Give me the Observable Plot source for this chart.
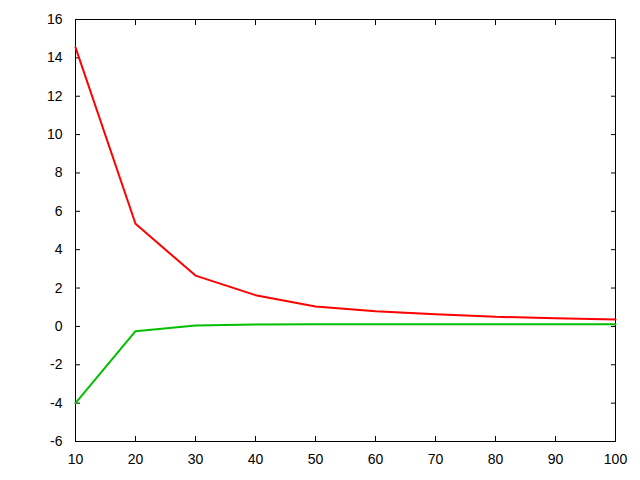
<!DOCTYPE html>
<html>
<head>
<meta charset="utf-8">
<script src="https://cdn.jsdelivr.net/npm/d3@7"></script>
<script src="https://cdn.jsdelivr.net/npm/@observablehq/plot@0.6"></script>
<style>
  html, body { margin: 0; padding: 0; background: #fff; }
  svg { display: block; }
</style>
</head>
<body>
<div id="chart"></div>
<script>
const xs = [10, 20, 30, 40, 50, 60, 70, 80, 90, 100];
const redValues = [14.55, 5.35, 2.65, 1.63, 1.04, 0.79, 0.64, 0.5, 0.43, 0.36];
const greenValues = [-4.0, -0.25, 0.05, 0.1, 0.11, 0.11, 0.11, 0.11, 0.11, 0.11];
const xTicks = [10, 20, 30, 40, 50, 60, 70, 80, 90, 100];
const yTicks = [-6, -4, -2, 0, 2, 4, 6, 8, 10, 12, 14, 16];

const red = xs.map((x, i) => ({x, y: redValues[i]}));
const green = xs.map((x, i) => ({x, y: greenValues[i]}));

const chart = Plot.plot({
  width: 640,
  height: 480,
  marginLeft: 75,
  marginRight: 25,
  marginTop: 19,
  marginBottom: 39,
  style: {fontFamily: "'Liberation Sans', Arial, sans-serif", fontSize: "14px", color: "black", background: "white"},
  x: {domain: [10, 100]},
  y: {domain: [-6, 16]},
  marks: [
    Plot.frame({stroke: "black", strokeWidth: 1}),
    Plot.axisX({anchor: "bottom", ticks: xTicks, tickSize: -5, tickPadding: 18, tickFormat: d => String(d), label: null, fill: "black", stroke: "black"}),
    Plot.axisX({anchor: "top", ticks: xTicks, tickSize: -5, tickFormat: () => "", label: null, stroke: "black"}),
    Plot.axisY({anchor: "left", ticks: yTicks, tickSize: -5, tickPadding: 18, tickFormat: d => String(d), label: null, fill: "black", stroke: "black"}),
    Plot.axisY({anchor: "right", ticks: yTicks, tickSize: -5, tickFormat: () => "", label: null, stroke: "black"}),
    Plot.line(green, {x: "x", y: "y", stroke: "#00c000", strokeWidth: 2}),
    Plot.line(red, {x: "x", y: "y", stroke: "#ff0000", strokeWidth: 2})
  ]
});
document.getElementById("chart").appendChild(chart);
</script>
</body>
</html>
